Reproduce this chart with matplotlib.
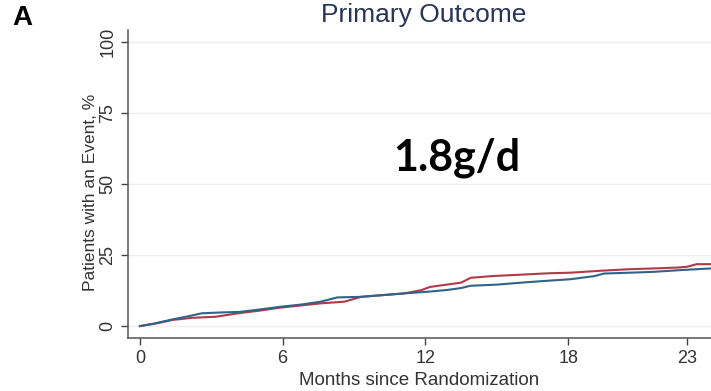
import matplotlib.pyplot as plt

# cumulative incidence, months vs % of patients with an event
months_red = [0, 0.6, 1.4, 2.2, 3.2, 4.2, 5.0, 5.9, 6.8, 7.6, 8.6, 9.3, 10.2, 11.1,
              11.8, 12.2, 12.9, 13.5, 13.9, 14.8, 16.0, 17.2, 18.1, 19.4, 20.5,
              21.6, 22.6, 23.0, 23.4, 24.0]
event_red = [0, 0.8, 2.2, 2.9, 3.3, 4.6, 5.4, 6.5, 7.3, 8.0, 8.6, 10.3, 10.9, 11.5,
             12.6, 13.8, 14.6, 15.3, 17.0, 17.6, 18.1, 18.6, 18.8, 19.5, 20.0,
             20.3, 20.6, 20.9, 21.8, 21.8]

months_blue = [0, 0.6, 1.4, 2.0, 2.6, 3.4, 4.2, 5.0, 5.9, 6.8, 7.6, 8.3, 9.3, 10.2,
               11.1, 12.1, 12.9, 13.5, 13.9, 15.0, 16.2, 17.2, 18.1, 19.1, 19.5,
               20.6, 21.6, 22.7, 24.0]
event_blue = [0, 0.9, 2.4, 3.4, 4.5, 4.8, 5.0, 5.8, 6.8, 7.6, 8.6, 10.1, 10.3, 10.9,
              11.5, 12.1, 12.7, 13.4, 14.2, 14.6, 15.4, 16.0, 16.5, 17.6, 18.5,
              18.8, 19.1, 19.7, 20.3]

x_ticks = [0, 6, 12, 18, 23]
y_ticks = [0, 25, 50, 75, 100]

plt.rcParams["font.family"] = ["Liberation Sans", "DejaVu Sans"]

fig = plt.figure(figsize=(7.11, 3.91), dpi=100)
ax = fig.add_axes([0.18, 0.1355, 0.82, 0.7875])

ax.plot(months_red, event_red, color="#b03a48", lw=1.5)
ax.plot(months_blue, event_blue, color="#2f6488", lw=1.5)

ax.set_xlim(-0.5, 24.0)
ax.set_ylim(-4.2, 104.2)
ax.set_xticks(x_ticks)
ax.set_yticks(y_ticks)
ax.set_yticklabels([str(v) for v in y_ticks], rotation=90, va="center")
ax.tick_params(colors="#444444", labelsize=13, length=5, width=1, labelcolor="#333333")
ax.grid(axis="y", color="#eeeeee", lw=1)
ax.set_axisbelow(True)

for s in ["top", "right"]:
    ax.spines[s].set_visible(False)
for s in ["left", "bottom"]:
    ax.spines[s].set_color("#555555")
    ax.spines[s].set_linewidth(1.1)

ax.set_ylabel("Patients with an Event, %", fontsize=12.5, color="#333333")
ax.yaxis.set_label_coords(-0.052, 0.474)
ax.set_xlabel("Months since Randomization", fontsize=13.5, color="#333333", labelpad=4)

fig.text(0.596, 0.962, "Primary Outcome", ha="center", va="center",
         fontsize=19, color="#263456")
fig.text(0.017, 0.953, "A", ha="left", va="center", fontsize=20, fontweight="bold",
         color="black")
ax.text(0.642, 0.596, "1.8g/d", transform=fig.transFigure, ha="center", va="center",
        fontsize=31, fontweight="bold", family=["Lato", "DejaVu Sans"], color="black")

plt.savefig("out.png", dpi=100)
